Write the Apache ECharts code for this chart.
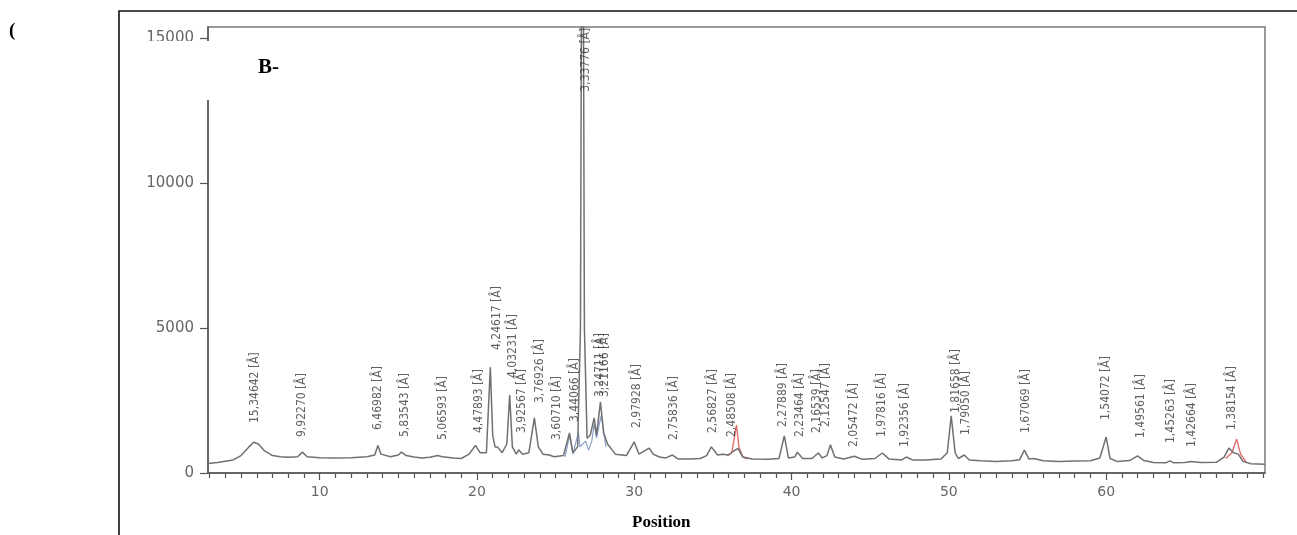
<!DOCTYPE html>
<html>
<head>
<meta charset="utf-8">
<script src="https://cdn.jsdelivr.net/npm/echarts@6/dist/echarts.min.js"></script>
<style>
html,body{margin:0;padding:0;background:#fff;}
#chart{width:1297px;height:535px;}
</style>
</head>
<body>
<div id="chart"></div>
<script>
// ---- data ----
const grayAngle = [2.9,3.5,4.5,5.0,5.5,5.8,6.1,6.5,7.0,7.5,8.0,8.6,8.9,9.2,10,11,12,13,13.5,13.7,13.9,14.5,15.0,15.2,15.5,16,16.5,17,17.5,17.8,18.5,19.0,19.5,19.9,20.2,20.6,20.85,21.0,21.15,21.3,21.6,21.9,22.08,22.25,22.5,22.65,22.9,23.3,23.65,23.9,24.2,24.6,24.9,25.5,25.88,26.1,26.4,26.58,26.64,26.77,26.83,27.0,27.2,27.45,27.6,27.85,28.05,28.3,28.8,29.5,30.0,30.3,30.95,31.2,31.6,32.0,32.43,32.8,33.5,34.2,34.6,34.9,35.3,35.6,36.0,36.3,36.6,36.9,37.5,38.5,39.2,39.54,39.8,40.2,40.37,40.7,41.3,41.7,41.95,42.25,42.47,42.75,43.3,44.0,44.5,45.3,45.77,46.2,47.0,47.3,47.7,48.5,49.5,49.9,50.15,50.4,50.6,50.98,51.3,52,53,54,54.5,54.8,55.1,55.4,56,57,58,59,59.6,60.0,60.25,60.7,61.5,62.0,62.4,63,63.8,64.05,64.3,65,65.4,66,67,67.5,67.8,68.1,68.4,68.7,69.2,70.1];
const grayCount = [330,360,450,600,900,1060,1000,760,600,560,540,560,720,560,530,520,530,560,620,950,650,560,620,720,600,550,520,540,600,560,520,500,650,950,700,700,3650,1300,900,900,700,1000,2690,900,650,800,650,700,1900,900,650,620,560,600,1380,700,900,5000,16000,16000,5000,1200,1300,1900,1300,2450,1400,1000,650,600,1070,650,860,650,550,520,620,480,480,500,600,900,620,650,620,750,850,550,480,470,500,1280,520,550,720,500,500,690,520,600,970,550,480,580,470,500,690,480,450,550,450,450,480,700,1970,700,500,620,450,420,400,420,460,790,480,500,420,400,410,420,520,1240,500,400,430,590,430,360,350,420,350,360,400,360,370,550,860,700,650,400,320,300];

const redAngle = [35.9,36.2,36.5,36.65,36.9,37.2,null,67.6,68.0,68.3,68.55,68.9];
const redCount = [600,700,1650,900,560,480,null,500,700,1170,650,380];

const blueAngle = [25.6,25.88,26.1,26.45,26.55,26.9,27.1,27.3,27.45,27.6,27.9,28.2];
const blueCount = [560,1300,650,1400,900,1100,790,1100,1700,1200,2000,900];

const peakAngle = [5.87,8.86,13.68,15.40,17.81,20.10,21.25,22.26,22.83,23.98,25.06,26.20,26.90,27.79,28.11,30.14,32.55,34.97,36.18,39.42,40.50,41.64,42.21,43.99,45.77,47.23,50.47,51.11,54.92,60.00,62.22,64.13,65.46,68.00];
const peakLabelBase = [1724,1241,1483,1241,1138,1379,4241,3276,1379,2414,1138,1758,13150,2620,2620,1552,1138,1379,1241,1586,1241,1379,1586,896,1241,896,2069,1310,1379,1827,1207,1034,896,1483];
const peakLabel = ["15,34642 [Å]","9,92270 [Å]","6,46982 [Å]","5,83543 [Å]","5,06593 [Å]","4,47893 [Å]","4,24617 [Å]","4,03231 [Å]","3,92567 [Å]","3,76926 [Å]","3,60710 [Å]","3,44066 [Å]","3,33776 [Å]","3,24711 [Å]","3,21166 [Å]","2,97928 [Å]","2,75836 [Å]","2,56827 [Å]","2,48508 [Å]","2,27889 [Å]","2,23464 [Å]","2,16539 [Å]","2,12547 [Å]","2,05472 [Å]","1,97816 [Å]","1,92356 [Å]","1,81658 [Å]","1,79050 [Å]","1,67069 [Å]","1,54072 [Å]","1,49561 [Å]","1,45263 [Å]","1,42664 [Å]","1,38154 [Å]"];

const xMajorTicks = [10,20,30,40,50,60];
const xMinorTicks = [3,4,5,6,7,8,9,11,12,13,14,15,16,17,18,19,21,22,23,24,25,26,27,28,29,31,32,33,34,35,36,37,38,39,41,42,43,44,45,46,47,48,49,51,52,53,54,55,56,57,58,59,61,62,63,64,65,66,67,68,69,70];
const yTicks = [0,5000,10000,15000];

const xMin = 2.9, xMax = 70.1, yMin = 0, yMax = 15380;

// ---- build ----
const zip = (a,b) => a.map((v,i) => v === null ? [null,null] : [v,b[i]]);
const chart = echarts.init(document.getElementById('chart'), null, {renderer:'canvas'});
const tickFont = 'DejaVu Sans, sans-serif';

const option = {
  animation:false,
  backgroundColor:'#fff',
  grid:{left:208, top:27, right:32, bottom:62, show:true, borderColor:'#7a7a7a', borderWidth:1.5, backgroundColor:'transparent'},
  xAxis:[{
    type:'value', min:xMin, max:xMax,
    axisLine:{show:true, lineStyle:{color:'#555', width:1.5}},
    axisTick:{show:true, customValues:xMajorTicks, length:7, lineStyle:{color:'#555', width:1.2}},
    axisLabel:{show:true, customValues:xMajorTicks, formatter:v => String(v), color:'#666', fontFamily:tickFont, fontSize:14, margin:12},
    splitLine:{show:false}
  },{
    type:'value', min:xMin, max:xMax, position:'bottom',
    axisLine:{show:false},
    axisTick:{show:true, customValues:xMinorTicks, length:5, lineStyle:{color:'#555', width:1.2}},
    axisLabel:{show:false},
    splitLine:{show:false}
  }],
  yAxis:{
    type:'value', min:yMin, max:yMax,
    axisLine:{show:true, lineStyle:{color:'#555', width:1.5}},
    axisTick:{show:true, customValues:yTicks, length:8, lineStyle:{color:'#555', width:1.2}},
    axisLabel:{show:true, customValues:yTicks, formatter:v => String(v), color:'#666', fontFamily:tickFont, fontSize:15, margin:14},
    splitLine:{show:false}
  },
  series:[
    {type:'line', data:zip(blueAngle,blueCount), showSymbol:false, connectNulls:false, lineStyle:{color:'#8aa0c8', width:1.2}, z:2},
    {type:'line', data:zip(redAngle,redCount), showSymbol:false, connectNulls:false, lineStyle:{color:'#e0706e', width:1.4}, z:2},
    {type:'line', data:zip(grayAngle,grayCount), showSymbol:false, lineStyle:{color:'#707070', width:1.5}, z:3},
    {type:'scatter', symbolSize:0, z:4, silent:true,
     data: peakAngle.map((a,i) => ({value:[a, peakLabelBase[i]], name:peakLabel[i]})),
     label:{show:true, position:[0,0], rotate:90, align:'left', verticalAlign:'middle',
            formatter:p => p.name, color:'#3a3a3a', fontSize:12, fontFamily:'DejaVu Sans Condensed, DejaVu Sans, sans-serif'}
    }
  ],
  graphic:[
    {type:'polyline', z:100, shape:{points:[[119,535],[119,11],[1297,11]]}, style:{stroke:'#111', lineWidth:1.6, fill:null}},
    {type:'rect', z:100, shape:{x:143, y:41, width:180, height:59}, style:{fill:'#fff'}},
    {type:'text', z:101, left:258, top:57, style:{text:'B-', fill:'#000', font:'bold 21px "Liberation Serif", "DejaVu Serif", serif'}},
    {type:'text', z:101, left:9, top:22, style:{text:'(', fill:'#000', font:'bold 19px "Liberation Serif", "DejaVu Serif", serif'}},
    {type:'text', z:101, left:632, top:514, style:{text:'Position', fill:'#000', font:'bold 17px "Liberation Serif", "DejaVu Serif", serif'}}
  ]
};
chart.setOption(option);
</script>
</body>
</html>
